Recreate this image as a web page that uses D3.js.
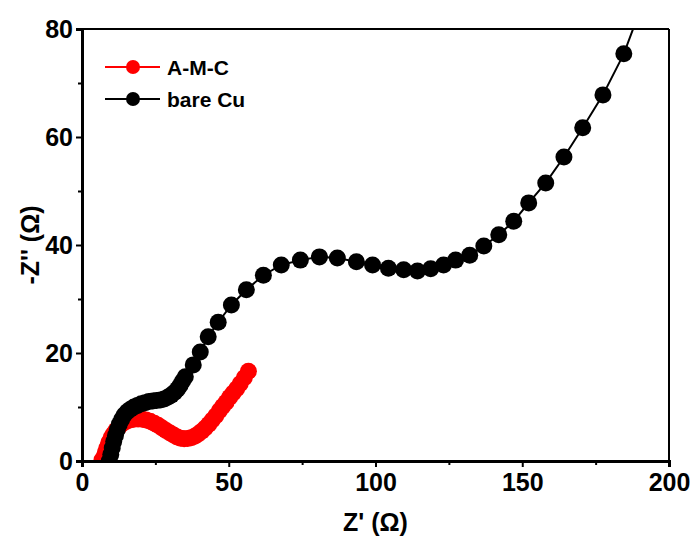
<!DOCTYPE html>
<html><head><meta charset="utf-8">
<script src="https://cdn.jsdelivr.net/npm/d3@7"></script>
<style>body{margin:0;background:#fff}svg{display:block}text{font-family:"Liberation Sans",Arial,sans-serif;font-weight:bold}</style>
</head><body><svg id="c" width="696" height="539"></svg>
<script>
const seriesNames = ["A-M-C", "bare Cu"];
const seriesColors = ["#ff0000", "#000000"];
const xTicks = [0, 50, 100, 150, 200];
const yTicks = [0, 20, 40, 60, 80];
const xMinor = [25, 75, 125, 175];
const yMinor = [10, 30, 50, 70];
// A-M-C : [Z', -Z'']
const amcX = [6.8,7.5,8.0,8.5,9.1,9.9,10.7,11.6,12.6,13.7,15.0,16.4,17.7,19.1,20.5,21.8,23.2,24.6,25.9,27.3,28.6,30.0,31.2,32.4,33.6,34.8,36.0,37.2,38.4,39.6,40.8,42.0,43.2,44.4,45.6,46.8,47.9,49.1,50.3,51.5,52.7,53.9,55.3,56.7];
const amcY = [0.2,0.8,1.6,2.4,3.4,4.3,5.0,5.7,6.3,6.9,7.3,7.6,7.75,7.8,7.75,7.6,7.35,7.0,6.6,6.1,5.65,5.2,4.8,4.45,4.2,4.1,4.15,4.3,4.6,5.0,5.5,6.1,6.8,7.6,8.4,9.3,10.1,10.9,11.8,12.6,13.4,14.3,15.4,16.6];
// bare Cu
const cuX = [9.3,9.8,10.3,10.8,11.4,12.0,12.7,13.5,14.4,15.4,16.5,17.7,18.9,20.2,21.5,22.8,24.1,25.4,26.7,28.0,29.2,30.4,31.5,32.5,33.4,34.3,35.2,37.9,40.3,43.0,46.4,50.9,56.0,61.8,67.9,74.4,80.9,87.0,93.5,99.0,104.4,109.6,114.3,118.8,123.2,127.3,132.1,136.9,142.0,147.1,152.2,158.0,164.2,170.6,177.5,184.6,190.5];
const cuY = [0.0,1.2,2.4,3.6,4.7,5.8,6.8,7.7,8.5,9.1,9.6,10.0,10.3,10.6,10.8,11.0,11.1,11.2,11.3,11.5,11.8,12.2,12.7,13.3,14.0,14.8,15.6,17.8,20.2,23.0,25.7,28.9,31.7,34.4,36.3,37.2,37.8,37.6,36.9,36.3,35.7,35.4,35.2,35.6,36.3,37.2,38.1,39.8,41.9,44.4,47.8,51.5,56.3,61.7,67.8,75.4,84.0];

const svg = d3.select("#c");
const L = 82, R = 669, T = 29, B = 461;
const x = d3.scaleLinear().domain([0, 200]).range([L, R]);
const y = d3.scaleLinear().domain([0, 80]).range([B, T]);

svg.append("defs").append("clipPath").attr("id", "clip")
  .append("rect").attr("x", L).attr("y", T).attr("width", R - L).attr("height", B - T);

const g = svg.append("g").attr("clip-path", "url(#clip)");
const series = [
  {name: seriesNames[0], color: seriesColors[0], xs: amcX, ys: amcY},
  {name: seriesNames[1], color: seriesColors[1], xs: cuX, ys: cuY}
];
const line = d3.line().x(d => x(d[0])).y(d => y(d[1]));
series.forEach(s => {
  const pts = s.xs.map((v, i) => [v, s.ys[i]]);
  g.append("path").datum(pts).attr("d", line).attr("fill", "none").attr("stroke", s.color).attr("stroke-width", 2);
  g.selectAll(null).data(pts).enter().append("circle")
    .attr("cx", d => x(d[0])).attr("cy", d => y(d[1])).attr("r", 8.5).attr("fill", s.color);
});

// frame top/right
svg.append("line").attr("x1", L).attr("x2", R).attr("y1", T).attr("y2", T).attr("stroke", "#000").attr("stroke-width", 2);
svg.append("line").attr("x1", R).attr("x2", R).attr("y1", T).attr("y2", B).attr("stroke", "#000").attr("stroke-width", 2);

// axes
const xAxis = svg.append("g").attr("transform", `translate(0,${B})`)
  .call(d3.axisBottom(x).tickValues(xTicks).tickSize(6).tickPadding(6).tickFormat(d3.format("d")));
const xMin = svg.append("g").attr("transform", `translate(0,${B})`)
  .call(d3.axisBottom(x).tickValues(xMinor).tickSize(4).tickFormat(""));
const yAxis = svg.append("g").attr("transform", `translate(${L},0)`)
  .call(d3.axisLeft(y).tickValues(yTicks).tickSize(6).tickPadding(3).tickFormat(d3.format("d")));
const yMin = svg.append("g").attr("transform", `translate(${L},0)`)
  .call(d3.axisLeft(y).tickValues(yMinor).tickSize(4).tickFormat(""));
[xAxis, yAxis, xMin, yMin].forEach(a => {
  a.select(".domain").attr("stroke", "#000").attr("stroke-width", 3);
  a.selectAll(".tick line").attr("stroke", "#000").attr("stroke-width", 2);
  a.selectAll("text").attr("font-size", 25).attr("fill", "#000")
    .style("font-family", '"Liberation Sans",Arial,sans-serif').style("font-weight", "bold");
});
xAxis.selectAll("text").attr("dy", "0.71em");

// axis titles
svg.append("text").attr("x", (L + R) / 2).attr("y", 531).attr("text-anchor", "middle")
  .attr("font-size", 25).text("Z' (Ω)");
svg.append("text").attr("transform", `translate(39,${(T + B) / 2}) rotate(-90)`).attr("text-anchor", "middle")
  .attr("font-size", 25).text("-Z'' (Ω)");

// legend
const leg = svg.append("g");
series.forEach((s, i) => {
  const ly = 67 + i * 32;
  leg.append("line").attr("x1", 105).attr("x2", 160).attr("y1", ly).attr("y2", ly).attr("stroke", s.color).attr("stroke-width", 2);
  leg.append("circle").attr("cx", 133).attr("cy", ly).attr("r", 7).attr("fill", s.color);
  leg.append("text").attr("x", 167).attr("y", ly + 7.5).attr("font-size", 21).text(s.name);
});
</script></body></html>
